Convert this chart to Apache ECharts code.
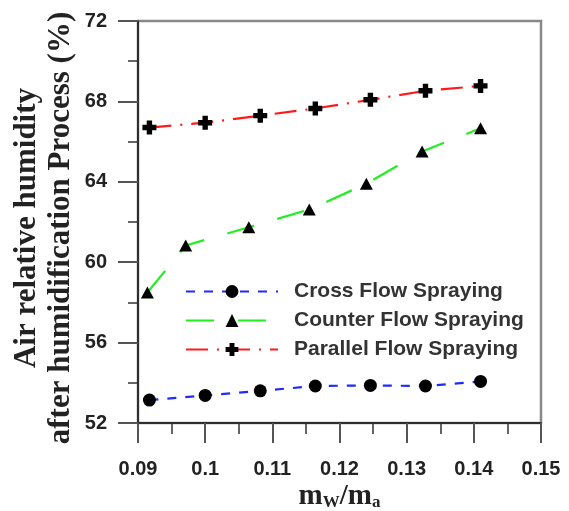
<!DOCTYPE html>
<html>
<head>
<meta charset="utf-8">
<script src="https://cdn.jsdelivr.net/npm/echarts@6/dist/echarts.min.js"></script>
<style>
  html, body { margin: 0; padding: 0; background: #ffffff; }
  #chart { width: 569px; height: 511px; }
</style>
</head>
<body>
<div id="chart"></div>
<script>
// Relative humidity after humidification vs water/air mass ratio
var seriesNames = ['Cross Flow Spraying', 'Counter Flow Spraying', 'Parallel Flow Spraying'];

var xCross = [0.0917, 0.1000, 0.1082, 0.1164, 0.1246, 0.1328, 0.1410];
var yCross = [53.14, 53.37, 53.60, 53.84, 53.87, 53.84, 54.07];

var xCounter = [0.0914, 0.0971, 0.1065, 0.1155, 0.1240, 0.1323, 0.1410];
var yCounter = [58.49, 60.83, 61.74, 62.62, 63.90, 65.51, 66.66];

var xParallel = [0.0917, 0.1000, 0.1082, 0.1164, 0.1246, 0.1328, 0.1410];
var yParallel = [66.70, 66.94, 67.29, 67.65, 68.08, 68.53, 68.77];

var xTicks = { min: 0.09, max: 0.15, step: 0.01 };
var yTicks = { min: 52, max: 72, step: 4 };

function pairs(xs, ys) {
  return xs.map(function (x, i) { return [x, ys[i]]; });
}

var plusSymbol = 'path://M4,0 H9 V4 H13 V9 H9 V13 H4 V9 H0 V4 H4 Z';

var chart = echarts.init(document.getElementById('chart'), null, { renderer: 'canvas' });

var labelFont = {
  fontFamily: '"Liberation Sans", Arial, sans-serif',
  fontWeight: 'bold',
  fontSize: 20,
  color: '#222'
};

chart.setOption({
  backgroundColor: '#ffffff',
  animation: false,
  grid: {
    left: 138, right: 28, top: 21, bottom: 88,
    outerBoundsMode: 'none',
    containLabel: false,
    show: true,
    borderColor: '#888',
    borderWidth: 2.5
  },
  legend: {
    orient: 'vertical',
    left: 180,
    top: 276,
    itemWidth: 92,
    itemHeight: 16,
    itemGap: 8,
    data: seriesNames,
    textStyle: {
      fontFamily: '"Liberation Sans", Arial, sans-serif',
      fontWeight: 'bold',
      fontSize: 21,
      lineHeight: 21,
      color: '#333',
      padding: [0, 0, 0, 11]
    }
  },
  xAxis: {
    type: 'value',
    min: xTicks.min,
    max: xTicks.max,
    interval: xTicks.step,
    name: 'm{s|W}/m{s|a}',
    nameLocation: 'middle',
    nameGap: 59,
    nameMoveOverlap: false,
    nameTextStyle: {
      fontFamily: '"Liberation Serif", "Times New Roman", serif',
      fontWeight: 'bold',
      fontSize: 29,
      color: '#222',
      rich: {
        s: {
          fontFamily: '"Liberation Serif", "Times New Roman", serif',
          fontWeight: 'bold',
          fontSize: 17,
          lineHeight: 17,
          verticalAlign: 'bottom',
          color: '#222'
        }
      }
    },
    axisLine: { show: true, lineStyle: { color: '#111', width: 1.5 } },
    axisTick: { show: true, inside: false, length: 20, lineStyle: { color: '#555', width: 2 } },
    minorTick: { show: true, splitNumber: 2, length: 11, lineStyle: { color: '#333', width: 1.5 } },
    splitLine: { show: false },
    axisLabel: Object.assign({ margin: 36, formatter: function (v) { return String(+v.toFixed(2)); } }, labelFont)
  },
  yAxis: {
    type: 'value',
    min: yTicks.min,
    max: yTicks.max,
    interval: yTicks.step,
    name: 'Air relative humidity\nafter humidification Process (%)',
    nameLocation: 'middle',
    nameRotate: 90,
    nameGap: 60,
    nameMoveOverlap: false,
    nameTextStyle: {
      fontFamily: '"Liberation Serif", "Times New Roman", serif',
      fontWeight: 'bold',
      fontSize: 31,
      lineHeight: 34,
      color: '#222',
      padding: [0, 12, 0, 0]
    },
    axisLine: { show: true, lineStyle: { color: '#111', width: 1.5 } },
    axisTick: { show: true, inside: false, length: 20, lineStyle: { color: '#555', width: 2 } },
    minorTick: { show: true, splitNumber: 2, length: 10, lineStyle: { color: '#333', width: 1.5 } },
    splitLine: { show: false },
    axisLabel: Object.assign({ margin: 31 }, labelFont)
  },
  series: [
    {
      name: seriesNames[0],
      type: 'line',
      data: pairs(xCross, yCross),
      symbol: 'circle',
      symbolSize: 13,
      itemStyle: { color: '#000' },
      lineStyle: { color: '#1f2cf5', width: 2.2, type: [9, 9] },
      z: 3
    },
    {
      name: seriesNames[1],
      type: 'line',
      data: pairs(xCounter, yCounter),
      symbol: 'triangle',
      symbolSize: [13, 12],
      itemStyle: { color: '#000' },
      lineStyle: { color: '#22ee22', width: 2.2, type: [28, 24] },
      z: 3
    },
    {
      name: seriesNames[2],
      type: 'line',
      data: pairs(xParallel, yParallel),
      symbol: plusSymbol,
      symbolSize: 14,
      itemStyle: { color: '#000' },
      lineStyle: { color: '#ff1a1a', width: 2.2, type: [22, 9, 2, 9] },
      z: 3
    }
  ]
});
</script>
</body>
</html>
